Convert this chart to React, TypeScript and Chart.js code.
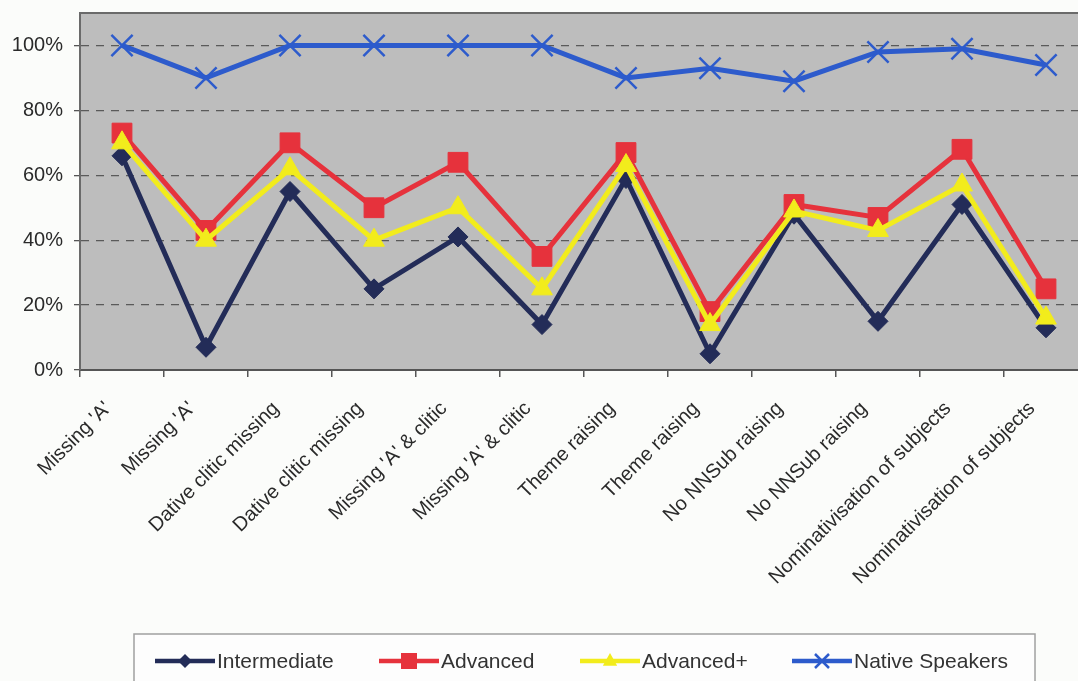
import React, { useEffect, useRef } from 'react';
import { Chart, registerables } from 'chart.js';
Chart.register(...registerables);

const categories = [
  "Missing 'A'", "Missing 'A'",
  'Dative clitic missing', 'Dative clitic missing',
  "Missing 'A' & clitic", "Missing 'A' & clitic",
  'Theme raising', 'Theme raising',
  'No NNSub raising', 'No NNSub raising',
  'Nominativisation of subjects', 'Nominativisation of subjects',
];
const seriesNames = ['Intermediate', 'Advanced', 'Advanced+', 'Native Speakers'];
const intermediate = [66, 7, 55, 25, 41, 14, 59, 5, 48, 15, 51, 13];
const advanced = [73, 43, 70, 50, 64, 35, 67, 18, 51, 47, 68, 25];
const advancedPlus = [70, 40, 62, 40, 50, 25, 63, 14, 49, 43, 57, 16];
const native = [100, 90, 100, 100, 100, 100, 90, 93, 89, 98, 99, 94];
const yTicks = [0, 20, 40, 60, 80, 100];

const COLORS = ['#232c58', '#e6323c', '#f2ec1c', '#2d5bcc'];
const SHAPES = ['rectRot', 'rect', 'triangle', 'crossRot'];
const RADII = [10, 14, 12, 15];
const FONT = "'Liberation Sans', Arial, sans-serif";
const CANVAS_W = 1100;

function drawMarker(ctx: CanvasRenderingContext2D, shape: string, x: number, y: number, color: string) {
  ctx.save();
  ctx.fillStyle = color;
  ctx.strokeStyle = color;
  ctx.lineWidth = 2.5;
  ctx.beginPath();
  if (shape === 'rectRot') {
    const d = 7;
    ctx.moveTo(x, y - d); ctx.lineTo(x + d, y); ctx.lineTo(x, y + d); ctx.lineTo(x - d, y); ctx.closePath();
    ctx.fill();
  } else if (shape === 'rect') {
    const s = 8;
    ctx.rect(x - s, y - s, 2 * s, 2 * s); ctx.fill();
  } else if (shape === 'triangle') {
    const h = 8;
    ctx.moveTo(x, y - h); ctx.lineTo(x + h * 0.9, y + h * 0.6); ctx.lineTo(x - h * 0.9, y + h * 0.6); ctx.closePath(); ctx.fill();
  } else {
    const d = 7;
    ctx.moveTo(x - d, y - d); ctx.lineTo(x + d, y + d); ctx.moveTo(x + d, y - d); ctx.lineTo(x - d, y + d); ctx.stroke();
  }
  ctx.restore();
}

const bgPlugin = {
  id: 'bgPlugin',
  beforeDraw(chart: any) {
    const { ctx, chartArea: a, width, height } = chart;
    ctx.save();
    ctx.fillStyle = '#fbfcfa';
    ctx.fillRect(0, 0, width, height);
    ctx.fillStyle = '#bdbdbd';
    ctx.fillRect(a.left, a.top, a.right - a.left, a.bottom - a.top);
    ctx.restore();
  },
  afterDraw(chart: any) {
    const { ctx, chartArea: a } = chart;
    ctx.save();
    ctx.strokeStyle = '#6a6a6a';
    ctx.lineWidth = 2;
    ctx.beginPath();
    ctx.moveTo(a.left, a.bottom);
    ctx.lineTo(a.left, a.top);
    ctx.lineTo(a.right, a.top);
    ctx.stroke();
    // legend
    const bx = 134, by = 634, bw = 901, bh = 60;
    ctx.fillStyle = '#fdfdfd';
    ctx.fillRect(bx, by, bw, bh);
    ctx.strokeStyle = '#a0a0a0';
    ctx.lineWidth = 1.5;
    ctx.strokeRect(bx, by, bw, bh);
    const starts = [155, 379, 580, 792];
    const ly = 661;
    ctx.font = `21px ${FONT}`;
    ctx.textBaseline = 'middle';
    ctx.textAlign = 'left';
    chart.data.datasets.forEach((ds: any, i: number) => {
      const x0 = starts[i];
      ctx.strokeStyle = COLORS[i];
      ctx.lineWidth = 4.5;
      ctx.beginPath();
      ctx.moveTo(x0, ly);
      ctx.lineTo(x0 + 60, ly);
      ctx.stroke();
      drawMarker(ctx, SHAPES[i], x0 + 30, ly, COLORS[i]);
      ctx.fillStyle = '#333333';
      ctx.fillText(ds.label, x0 + 62, ly + 1);
    });
    ctx.restore();
  },
};

export default function App() {
  const ref = useRef<HTMLCanvasElement>(null);
  useEffect(() => {
    document.body.style.margin = '0';
    const series = [intermediate, advanced, advancedPlus, native];
    const chart = new Chart(ref.current!, {
      type: 'line',
      data: {
        labels: categories,
        datasets: series.map((d, i) => ({
          label: seriesNames[i],
          data: d,
          borderColor: COLORS[i],
          backgroundColor: COLORS[i],
          pointBackgroundColor: COLORS[i],
          pointBorderColor: COLORS[i],
          pointStyle: SHAPES[i] as any,
          pointRadius: RADII[i],
          pointBorderWidth: i === 3 ? 2.5 : 1,
          borderWidth: 5,
          tension: 0,
          fill: false,
          clip: false as any,
          order: 4 - i,
        })),
      },
      options: {
        animation: false,
        responsive: false,
        layout: { autoPadding: false, padding: { top: 13, left: 0, right: CANVAS_W - 1088, bottom: 0 } },
        plugins: { legend: { display: false }, tooltip: { enabled: false } },
        scales: {
          x: {
            offset: true,
            grid: { display: true, drawOnChartArea: false, drawTicks: true, tickLength: 7, offset: true, color: '#555', lineWidth: 1.5 },
            border: { display: true, color: '#555', width: 2 },
            ticks: {
              autoSkip: false, minRotation: 45, maxRotation: 45, color: '#2a2a2a',
              font: { family: FONT, size: 20 }, padding: 20, labelOffset: -14,
            },
            afterFit(scale: any) { scale.height = 311; scale.paddingRight = 0; scale.paddingLeft = 0; },
          },
          y: {
            min: 0, max: 110,
            afterBuildTicks(scale: any) { scale.ticks = yTicks.map((v) => ({ value: v })); },
            grid: {
              color: (c: any) => (c.tick && c.tick.value === 0 ? 'rgba(0,0,0,0)' : '#5a5a5a'),
              lineWidth: 1.3, drawTicks: true, tickLength: 6,
              tickColor: '#555', tickBorderDash: [],
            },
            border: { display: true, color: '#6a6a6a', width: 2, dash: [8, 7] },
            ticks: {
              color: '#2a2a2a', font: { family: FONT, size: 20 }, padding: 11,
              callback: (v: any) => `${v}%`,
            },
            afterFit(scale: any) { scale.width = 80; scale.paddingTop = 0; scale.paddingBottom = 0; },
          },
        },
      },
      plugins: [bgPlugin],
    });
    return () => chart.destroy();
  }, []);
  return (
    <div style={{ width: 1078, height: 681, overflow: 'hidden' }}>
      <canvas ref={ref} width={CANVAS_W} height={681} style={{ display: 'block' }} />
    </div>
  );
}
